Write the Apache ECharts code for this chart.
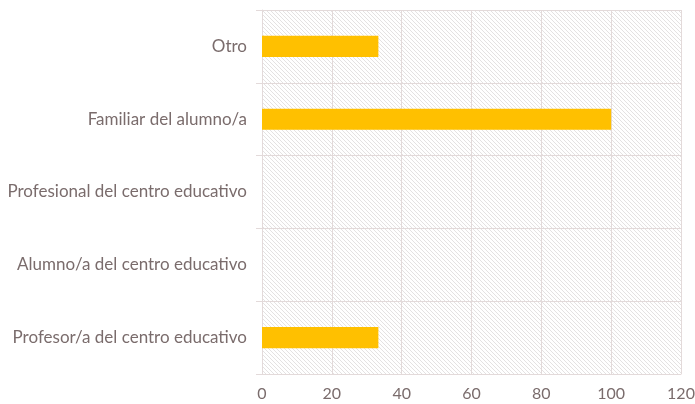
<!DOCTYPE html>
<html>
<head>
<meta charset="utf-8">
<script src="https://cdn.jsdelivr.net/npm/echarts@6/dist/echarts.min.js"></script>
<style>
html,body{margin:0;padding:0;background:#fff;}
#chart{width:695px;height:404px;}
</style>
</head>
<body>
<div id="chart"></div>
<script>
// Respondent roles (bottom to top) and their percentages
const categories = [
  'Profesor/a del centro educativo',
  'Alumno/a del centro educativo',
  'Profesional del centro educativo',
  'Familiar del alumno/a',
  'Otro'
];
const values = [33.33, 0, 0, 100, 33.33];
const xTicks = { min: 0, max: 120, interval: 20 };

// Diagonal hatch fill for the plot background
function hatchPattern() {
  const c = document.createElement('canvas');
  c.width = 4; c.height = 4;
  const g = c.getContext('2d');
  g.fillStyle = '#ffffff';
  g.fillRect(0, 0, 4, 4);
  g.strokeStyle = '#e4e2e2';
  g.lineWidth = 1;
  g.beginPath();
  g.moveTo(-1, -1); g.lineTo(5, 5);
  g.moveTo(-1, 3); g.lineTo(1, 5);
  g.moveTo(3, -1); g.lineTo(5, 1);
  g.stroke();
  return c;
}

const textColor = '#7a6c6c';
const lineColor = '#e3dada';

const chart = echarts.init(document.getElementById('chart'), null, { renderer: 'canvas' });
chart.setOption({
  animation: false,
  grid: {
    left: 262, right: 14, top: 10, bottom: 30,
    outerBoundsMode: 'none',
    containLabel: false,
    show: true,
    borderWidth: 0,
    backgroundColor: { image: hatchPattern(), repeat: 'repeat' }
  },
  xAxis: {
    type: 'value',
    min: xTicks.min, max: xTicks.max, interval: xTicks.interval,
    axisLine: { show: true, lineStyle: { color: lineColor } },
    axisTick: { show: false },
    splitLine: { show: true, lineStyle: { color: lineColor, width: 1 } },
    axisLabel: { color: textColor, fontFamily: 'Lato', fontSize: 16, margin: 12 }
  },
  yAxis: {
    type: 'category',
    data: categories,
    axisLine: { show: true, lineStyle: { color: lineColor } },
    axisTick: { show: true, length: 6, lineStyle: { color: lineColor } },
    splitLine: { show: true, lineStyle: { color: lineColor, width: 1 } },
    axisLabel: { color: textColor, fontFamily: 'Lato', fontSize: 17, margin: 15 }
  },
  series: [{
    type: 'bar',
    data: values,
    barWidth: '29%',
    itemStyle: { color: '#ffc000' }
  }]
});
</script>
</body>
</html>
